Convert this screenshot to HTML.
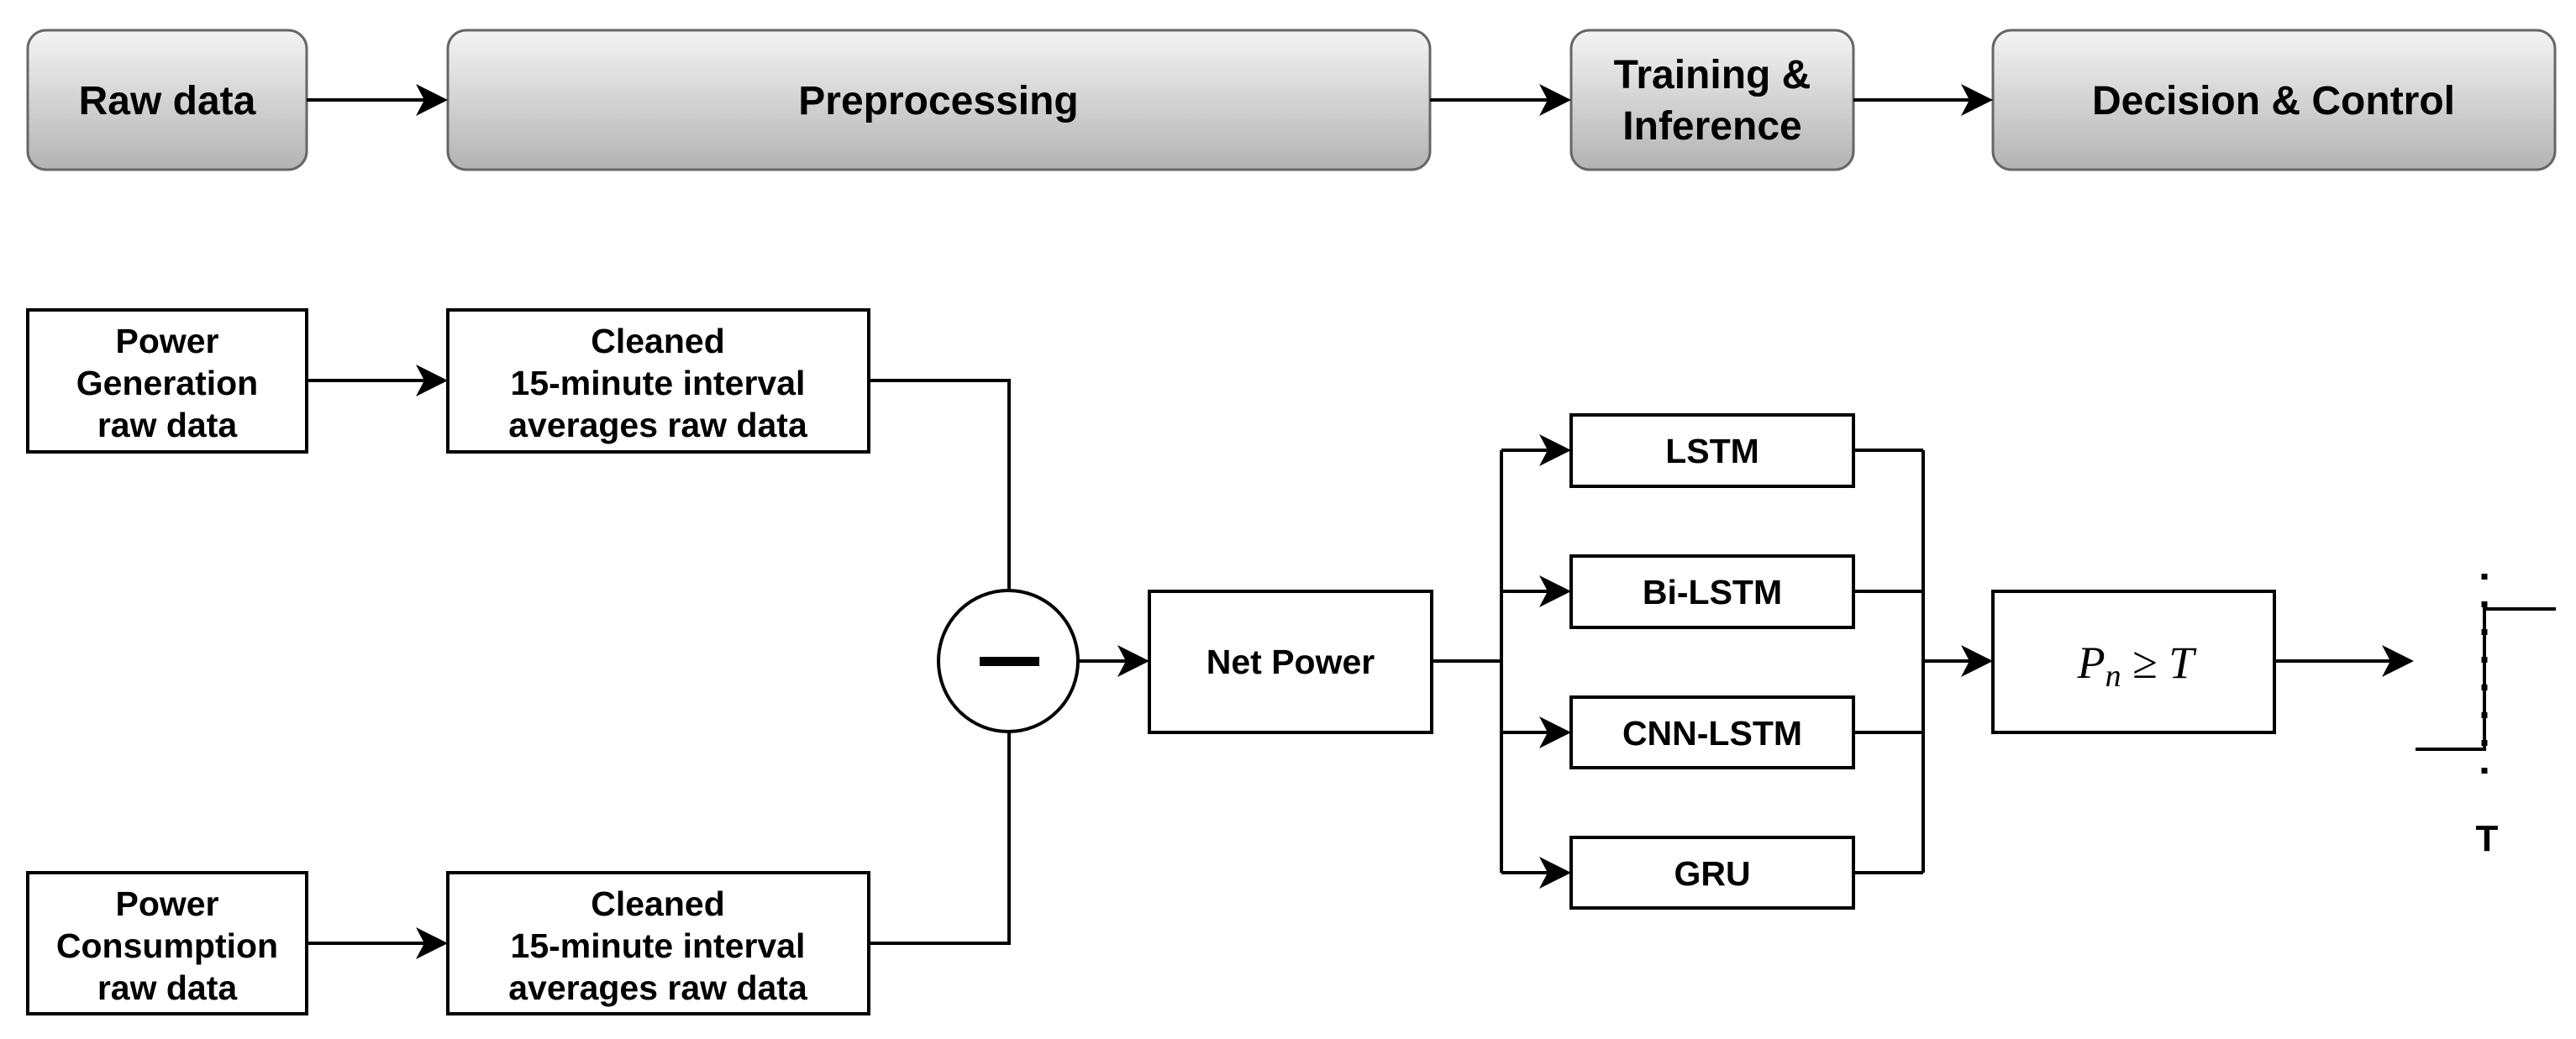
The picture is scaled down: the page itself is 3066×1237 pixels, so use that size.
<!DOCTYPE html>
<html><head><meta charset="utf-8">
<style>
html,body{margin:0;padding:0;background:#fff;}
svg{display:block;}
text{font-family:"Liberation Sans",Arial,sans-serif;font-weight:bold;fill:#000;}
</style></head>
<body>
<svg width="3066" height="1237" viewBox="0 0 3066 1237" xmlns="http://www.w3.org/2000/svg">
<defs>
<linearGradient id="g" x1="0" y1="0" x2="0" y2="1">
<stop offset="0" stop-color="#f4f4f4"/><stop offset="1" stop-color="#b3b3b3"/>
</linearGradient>
</defs>
<!-- top boxes -->
<g stroke="#666" stroke-width="3" fill="url(#g)">
<rect x="33" y="36" width="332" height="166" rx="22"/>
<rect x="533" y="36" width="1169" height="166" rx="22"/>
<rect x="1870" y="36" width="336" height="166" rx="22"/>
<rect x="2372" y="36" width="669" height="166" rx="22"/>
</g>
<g font-size="48" text-anchor="middle">
<text x="199" y="136">Raw data</text>
<text x="1117" y="136">Preprocessing</text>
<text x="2038" y="105">Training &amp;</text>
<text x="2038" y="166">Inference</text>
<text x="2706" y="136">Decision &amp; Control</text>
</g>
<!-- lines -->
<g stroke="#000" stroke-width="4" fill="none">
<line x1="365" y1="119" x2="510" y2="119"/>
<line x1="1702" y1="119" x2="1847" y2="119"/>
<line x1="2206" y1="119" x2="2349" y2="119"/>
<line x1="365" y1="453" x2="510" y2="453"/>
<line x1="365" y1="1123" x2="510" y2="1123"/>
<polyline points="1034,453 1201,453 1201,703"/>
<polyline points="1034,1123 1201,1123 1201,872"/>
<line x1="1283" y1="787" x2="1345" y2="787"/>
<line x1="1704" y1="787" x2="1787" y2="787"/>
<line x1="1787" y1="536" x2="1787" y2="1039"/>
<line x1="1787" y1="536" x2="1847" y2="536"/>
<line x1="1787" y1="704" x2="1847" y2="704"/>
<line x1="1787" y1="872" x2="1847" y2="872"/>
<line x1="1787" y1="1039" x2="1847" y2="1039"/>
<line x1="2206" y1="536" x2="2289" y2="536"/>
<line x1="2206" y1="704" x2="2289" y2="704"/>
<line x1="2206" y1="872" x2="2289" y2="872"/>
<line x1="2206" y1="1039" x2="2289" y2="1039"/>
<line x1="2289" y1="536" x2="2289" y2="1039"/>
<line x1="2289" y1="787" x2="2349" y2="787"/>
<line x1="2707" y1="787" x2="2850" y2="787"/>
</g>
<!-- arrowheads -->
<g fill="#000">
<polygon points="533,119 495,100 505,119 495,138"/>
<polygon points="1870,119 1832,100 1842,119 1832,138"/>
<polygon points="2372,119 2334,100 2344,119 2334,138"/>
<polygon points="533,453 495,434 505,453 495,472"/>
<polygon points="533,1123 495,1104 505,1123 495,1142"/>
<polygon points="1368,787 1330,768 1340,787 1330,806"/>
<polygon points="1870,536 1832,517 1842,536 1832,555"/>
<polygon points="1870,704 1832,685 1842,704 1832,723"/>
<polygon points="1870,872 1832,853 1842,872 1832,891"/>
<polygon points="1870,1039 1832,1020 1842,1039 1832,1058"/>
<polygon points="2372,787 2334,768 2344,787 2334,806"/>
<polygon points="2873,787 2835,768 2845,787 2835,806"/>
</g>
<!-- lower boxes -->
<g stroke="#000" stroke-width="4" fill="#fff">
<rect x="33" y="369" width="332" height="169"/>
<rect x="533" y="369" width="501" height="169"/>
<rect x="33" y="1039" width="332" height="168"/>
<rect x="533" y="1039" width="501" height="168"/>
<ellipse cx="1200" cy="787" rx="83" ry="84"/>
<rect x="1368" y="704" width="336" height="168"/>
<rect x="1870" y="494" width="336" height="85"/>
<rect x="1870" y="662" width="336" height="85"/>
<rect x="1870" y="830" width="336" height="84"/>
<rect x="1870" y="997" width="336" height="84"/>
<rect x="2372" y="704" width="335" height="168"/>
</g>
<rect x="1166" y="782" width="71" height="11" fill="#000"/>
<g font-size="41" text-anchor="middle">
<text x="199" y="420">Power</text>
<text x="199" y="470">Generation</text>
<text x="199" y="520">raw data</text>
<text x="783" y="420">Cleaned</text>
<text x="783" y="470">15-minute interval</text>
<text x="783" y="520">averages raw data</text>
<text x="199" y="1090">Power</text>
<text x="199" y="1140">Consumption</text>
<text x="199" y="1190">raw data</text>
<text x="783" y="1090">Cleaned</text>
<text x="783" y="1140">15-minute interval</text>
<text x="783" y="1190">averages raw data</text>
<text x="1536" y="802">Net Power</text>
<text x="2038" y="551">LSTM</text>
<text x="2038" y="719">Bi-LSTM</text>
<text x="2038" y="887">CNN-LSTM</text>
<text x="2038" y="1054">GRU</text>
<text x="2960" y="1013" font-size="44">T</text>
</g>
<text x="2542" y="807" text-anchor="middle" style="font-family:'Liberation Serif','DejaVu Serif',serif;font-weight:normal;font-size:54px"><tspan font-style="italic">P</tspan><tspan font-style="italic" font-size="38" dy="10">n</tspan><tspan dy="-10"> ≥ </tspan><tspan font-style="italic">T</tspan></text>
<!-- step -->
<g stroke="#000" fill="none">
<polyline points="2875,892 2957,892 2957,725 3042,725" stroke-width="4"/>
<line x1="2957" y1="683" x2="2957" y2="925" stroke-width="7" stroke-dasharray="7,26"/>
</g>
</svg>
</body></html>
